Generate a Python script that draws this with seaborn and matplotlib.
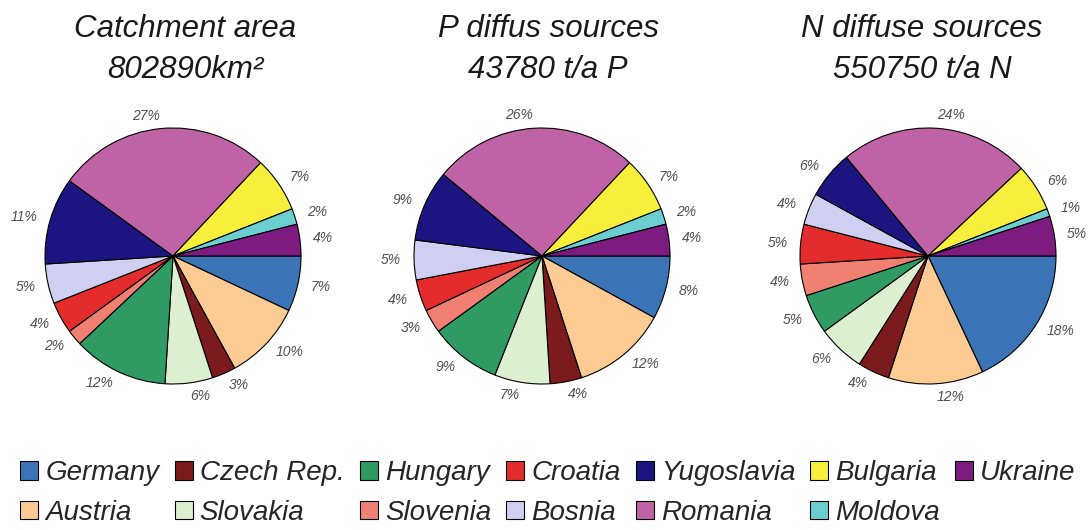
import matplotlib
matplotlib.use("Agg")
import matplotlib.pyplot as plt
from matplotlib.patches import Patch
import seaborn as sns

# Danube basin shares by country (percent), listed clockwise from 3 o'clock
countries = ["Germany", "Austria", "Czech Rep.", "Slovakia", "Hungary", "Slovenia",
             "Croatia", "Bosnia", "Yugoslavia", "Romania", "Bulgaria", "Moldova", "Ukraine"]
catchment_pct = [7, 10, 3, 6, 12, 2, 4, 5, 11, 27, 7, 2, 4]
p_diffuse_pct = [8, 12, 4, 7, 9, 3, 4, 5, 9, 26, 7, 2, 4]
n_diffuse_pct = [18, 12, 4, 6, 5, 4, 5, 4, 6, 24, 6, 1, 5]

titles = [("Catchment area", "802890km²"),
          ("P diffus sources", "43780 t/a P"),
          ("N diffuse sources", "550750 t/a N")]

country_colors = ["#3B74B6", "#FCCB93", "#7B1B1D", "#DDEFD1", "#2F9B63", "#F08172",
                  "#E52C2C", "#CFCFF1", "#1C1481", "#BF63A6", "#F8EF3D", "#6CCFCF", "#7E1B80"]

sns.set_theme(style="white")
plt.rcParams["font.family"] = ["Liberation Sans", "DejaVu Sans"]

W, H = 1088, 530
fig = plt.figure(figsize=(W / 100, H / 100), dpi=100)
palette = sns.color_palette(country_colors)

radius = 128          # pie radius in pixels
box = 360             # side of each pie's axes box in pixels
centers = [(173, H - 256), (542, H - 256), (928, H - 256)]
title_x = [185, 548, 922]

for values, (line1, line2), (cx, cy), tx in zip(
        [catchment_pct, p_diffuse_pct, n_diffuse_pct], titles, centers, title_x):
    ax = fig.add_axes([(cx - box / 2) / W, (cy - box / 2) / H, box / W, box / H])
    ax.pie(values, colors=palette, startangle=0, counterclock=False,
           radius=radius, frame=True,
           labels=[f"{v}%" for v in values], labeldistance=1.1,
           wedgeprops=dict(edgecolor="black", linewidth=0.8),
           textprops=dict(fontsize=10, fontstyle="italic", color="#505050"))
    ax.set_xlim(-box / 2, box / 2)
    ax.set_ylim(-box / 2, box / 2)
    ax.set_axis_off()
    fig.text(tx / W, (H - 37) / H, line1, ha="center", va="baseline",
             fontsize=22.5, fontstyle="italic", color="#1a1a1a")
    fig.text(tx / W, (H - 78) / H, line2, ha="center", va="baseline",
             fontsize=22.5, fontstyle="italic", color="#1a1a1a")

handles = [Patch(facecolor=c, edgecolor="black", linewidth=0.8) for c in palette]
fig.legend(handles, countries, ncol=7, loc="center",
           bbox_to_anchor=(548 / W, 1 - 493 / H), frameon=False,
           prop=dict(size=20, style="italic"),
           handlelength=0.65, handleheight=0.65, handletextpad=0.25,
           columnspacing=0.55, labelspacing=0.5, borderpad=0.1)

fig.savefig("out.png", dpi=100, facecolor="white")
